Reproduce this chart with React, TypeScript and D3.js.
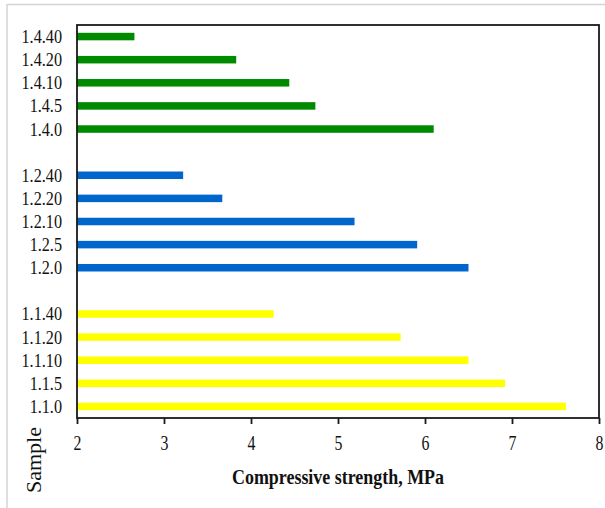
import React, { useEffect, useRef } from 'react'
import * as d3 from 'd3'

// samples, top of chart to bottom
const samples14 = ['1.4.40', '1.4.20', '1.4.10', '1.4.5', '1.4.0']
const values14 = [2.66, 3.83, 4.44, 4.74, 6.10]
const samples12 = ['1.2.40', '1.2.20', '1.2.10', '1.2.5', '1.2.0']
const values12 = [3.22, 3.67, 5.19, 5.91, 6.50]
const samples11 = ['1.1.40', '1.1.20', '1.1.10', '1.1.5', '1.1.0']
const values11 = [4.26, 5.72, 6.50, 6.92, 7.62]
const groupColors = ['#008a00', '#0066cc', '#ffff00']
const xTicks = [2, 3, 4, 5, 6, 7, 8]

const W = 605
const H = 508
const marge = { top: 25, bottom: 90, left: 77, right: 6 }

export default function App() {
  const ref = useRef<SVGSVGElement>(null)

  useEffect(() => {
    const svg = d3.select(ref.current)
    svg.selectAll('*').remove()

    const groups = [
      { names: samples14, vals: values14, color: groupColors[0] },
      { names: samples12, vals: values12, color: groupColors[1] },
      { names: samples11, vals: values11, color: groupColors[2] },
    ]
    const domain: string[] = []
    groups.forEach((g, i) => {
      domain.push(...g.names)
      if (i < groups.length - 1) domain.push('gap' + i)
    })
    const rows = groups.flatMap(g => g.names.map((n, i) => ({ name: n, value: g.vals[i], color: g.color })))

    const x = d3.scaleLinear().domain([2, 8]).range([marge.left, W - marge.right])
    const y = d3.scaleBand().domain(domain).range([marge.top, H - marge.bottom])
      .paddingInner(0.675).paddingOuter(0.3375)

    // outer light border (top and left)
    svg.append('line').attr('x1', 7).attr('x2', W).attr('y1', 4.5).attr('y2', 4.5)
      .attr('stroke', '#d4d4d4').attr('stroke-width', 1.5)
    svg.append('line').attr('x1', 7).attr('x2', 7).attr('y1', 4).attr('y2', H)
      .attr('stroke', '#d4d4d4').attr('stroke-width', 1.5)

    svg.append('g').selectAll('rect')
      .data(rows)
      .enter()
      .append('rect')
      .attr('x', x(2))
      .attr('y', d => y(d.name)!)
      .attr('width', d => x(d.value) - x(2))
      .attr('height', y.bandwidth())
      .attr('fill', d => d.color)

    // frame
    svg.append('rect')
      .attr('x', marge.left).attr('y', marge.top)
      .attr('width', W - marge.right - marge.left).attr('height', H - marge.bottom - marge.top)
      .attr('fill', 'none').attr('stroke', '#1a1a1a').attr('stroke-width', 1.8)

    // y labels
    svg.append('g').selectAll('g')
      .data(rows)
      .enter()
      .append('g')
      .attr('transform', d => `translate(62,${y(d.name)! + y.bandwidth() / 2 + 6.5}) scale(0.9,1)`)
      .append('text')
      .attr('text-anchor', 'end')
      .attr('font-family', '"Liberation Serif", serif')
      .attr('font-size', 18)
      .attr('fill', '#111')
      .text(d => d.name)

    // x axis
    const ax = svg.append('g')
      .attr('transform', `translate(0,${H - marge.bottom})`)
      .call(d3.axisBottom(x).tickValues(xTicks).tickSize(6).tickSizeOuter(0).tickFormat(d3.format('d')))
    ax.select('.domain').remove()
    ax.selectAll('line').attr('stroke', '#1a1a1a').attr('stroke-width', 1.8)
    ax.selectAll('text')
      .attr('y', 32).attr('dy', 0)
      .attr('transform', 'scale(0.72,1)')
      .attr('font-family', '"Liberation Serif", serif')
      .attr('font-size', 22)
      .attr('fill', '#111')

    svg.append('text')
      .attr('x', 338).attr('y', 484)
      .attr('text-anchor', 'middle')
      .attr('font-family', '"Liberation Serif", serif')
      .attr('font-weight', 'bold')
      .attr('font-size', 20)
      .attr('textLength', 212)
      .attr('lengthAdjust', 'spacingAndGlyphs')
      .attr('fill', '#111')
      .text('Compressive strength, MPa')

    svg.append('text')
      .attr('transform', 'translate(41,460) rotate(-90)')
      .attr('text-anchor', 'middle')
      .attr('font-family', '"Liberation Serif", serif')
      .attr('font-size', 20)
      .attr('textLength', 66)
      .attr('lengthAdjust', 'spacingAndGlyphs')
      .attr('fill', '#111')
      .text('Sample')
  }, [])

  return (
    <div style={{ position: 'absolute', left: 0, top: 0 }}>
      <svg ref={ref} width={W} height={H} style={{ display: 'block', background: '#fff' }} />
    </div>
  )
}
